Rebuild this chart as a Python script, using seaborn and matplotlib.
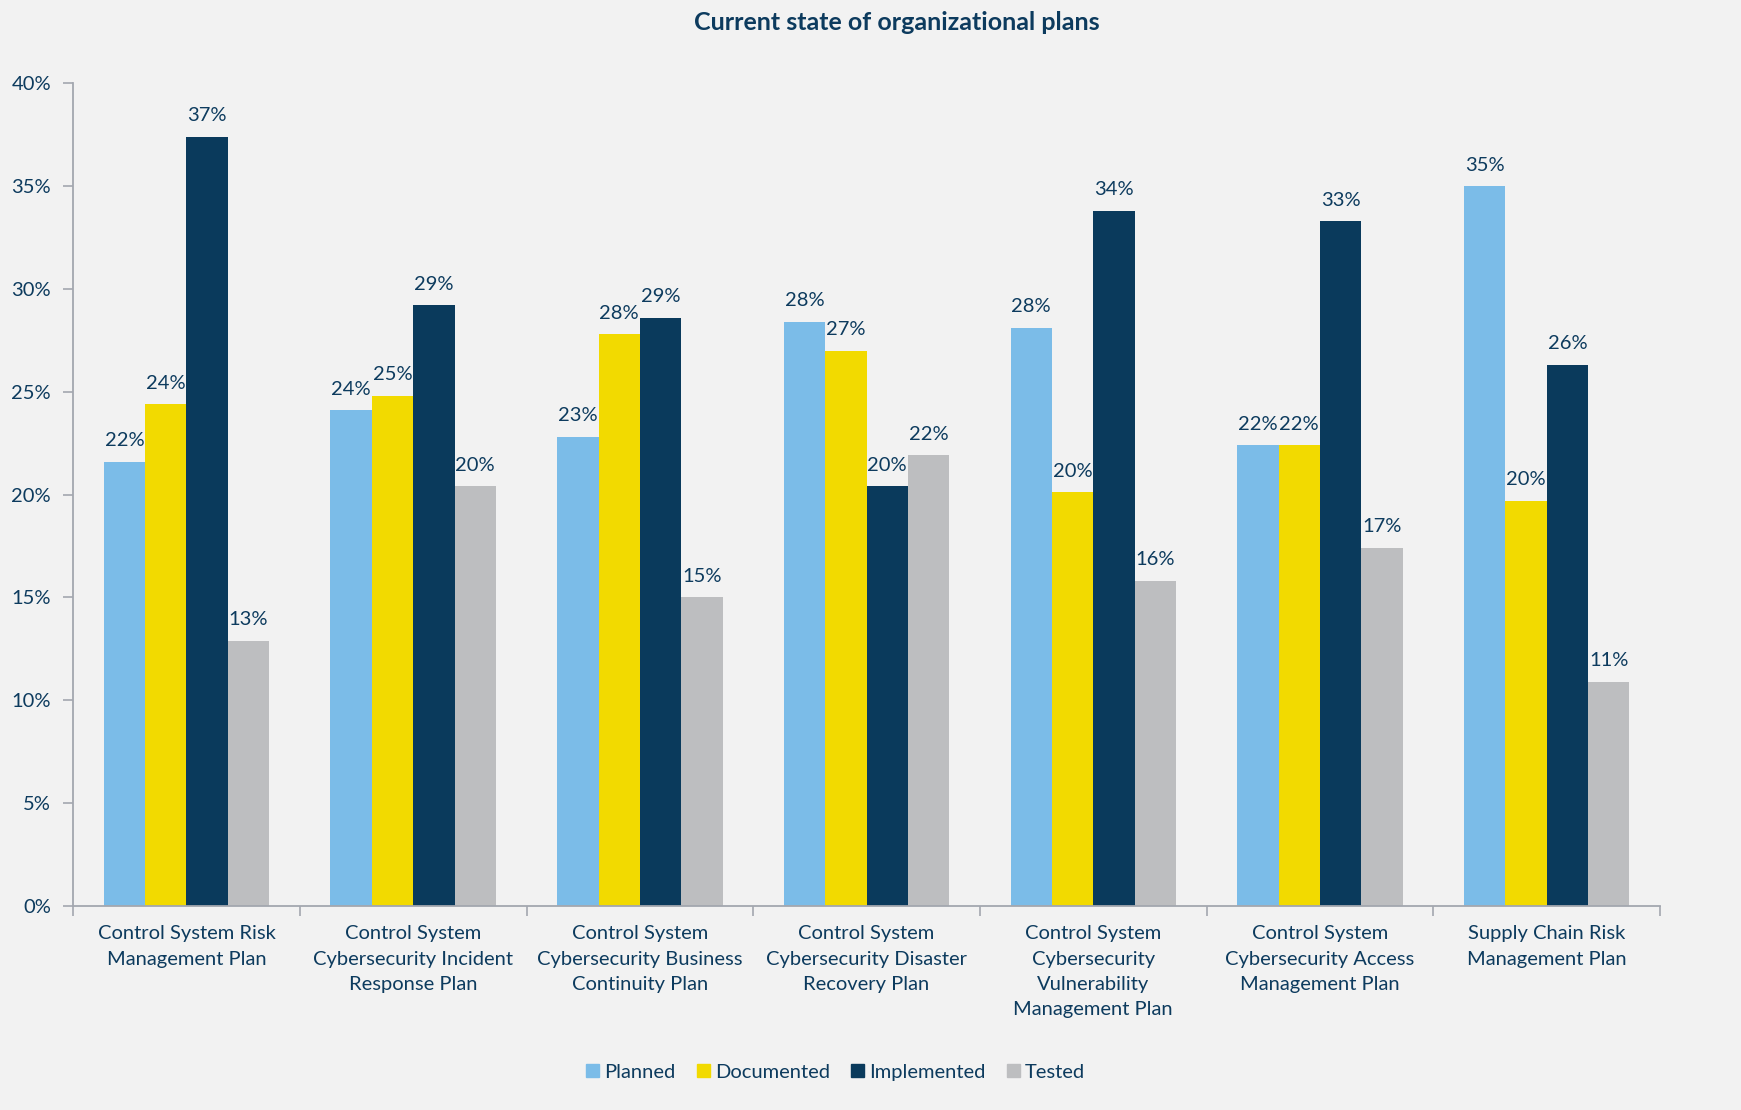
import matplotlib
matplotlib.use("Agg")
import matplotlib.pyplot as plt
import seaborn as sns
import pandas as pd
from matplotlib.ticker import FixedLocator, PercentFormatter

plans = [
    "Control System Risk\nManagement Plan",
    "Control System\nCybersecurity Incident\nResponse Plan",
    "Control System\nCybersecurity Business\nContinuity Plan",
    "Control System\nCybersecurity Disaster\nRecovery Plan",
    "Control System\nCybersecurity\nVulnerability\nManagement Plan",
    "Control System\nCybersecurity Access\nManagement Plan",
    "Supply Chain Risk\nManagement Plan",
]
statuses = ["Planned", "Documented", "Implemented", "Tested"]

planned = [21.6, 24.1, 22.8, 28.4, 28.1, 22.4, 35.0]
documented = [24.4, 24.8, 27.8, 27.0, 20.1, 22.4, 19.7]
implemented = [37.4, 29.2, 28.6, 20.4, 33.8, 33.3, 26.3]
tested = [12.9, 20.4, 15.0, 21.9, 15.8, 17.4, 10.9]

colors = ["#7BBCE8", "#F2DA00", "#0A3A5C", "#BDBEC0"]
bg = "#F2F2F2"
navy = "#0D3B5E"

df = pd.DataFrame({
    "Plan": plans * 4,
    "Status": sum([[s] * len(plans) for s in statuses], []),
    "Value": planned + documented + implemented + tested,
})

sns.set_theme(style="white")
plt.rcParams["font.family"] = ["Lato", "DejaVu Sans"]

fig = plt.figure(figsize=(17.41, 11.10), dpi=100, facecolor=bg)
ax = fig.add_axes([0.042, 0.184, 0.9115, 0.741])
ax.set_facecolor(bg)

sns.barplot(data=df, x="Plan", y="Value", hue="Status", order=plans,
            hue_order=statuses, palette=colors, width=0.73, saturation=1,
            linewidth=0, ax=ax)

for cont in ax.containers:
    ax.bar_label(cont, labels=[f"{v:.0f}%" for v in cont.datavalues],
                 padding=9, fontsize=14.5, color=navy)

ax.set_ylim(0, 40)
ax.set_xlim(-0.5, len(plans) - 0.5)
ax.yaxis.set_major_locator(FixedLocator(range(0, 41, 5)))
ax.yaxis.set_major_formatter(PercentFormatter(decimals=0))
ax.set_xlabel("")
ax.set_ylabel("")

for side in ["top", "right"]:
    ax.spines[side].set_visible(False)
for side in ["left", "bottom"]:
    ax.spines[side].set_color("#A3A7AF")
    ax.spines[side].set_linewidth(1.3)

ax.tick_params(axis="y", which="major", left=True, length=7, width=1.2,
               color="#A3A7AF", labelsize=14.5, labelcolor=navy, pad=9)
ax.set_xticks(range(len(plans)))
ax.set_xticklabels(plans, linespacing=1.6)
ax.tick_params(axis="x", which="major", bottom=False, labelsize=14.5,
               labelcolor=navy, pad=8)
ax.set_xticks([i + 0.5 for i in range(-1, len(plans))], minor=True)
ax.tick_params(axis="x", which="minor", bottom=True, length=7, width=1.2,
               color="#A3A7AF")

ax.legend_.remove()
handles = [plt.Rectangle((0, 0), 1, 1, color=c) for c in colors]
fig.legend(handles, statuses, loc="center", bbox_to_anchor=(0.48, 0.034),
           ncol=4, frameon=False, fontsize=14.5, labelcolor=navy,
           handlelength=0.65, handleheight=0.65, handletextpad=0.25,
           columnspacing=1.05)

fig.suptitle("Current state of organizational plans", x=0.515, y=0.99,
             fontsize=18, fontweight="bold", color=navy)

fig.savefig("out.png", dpi=100, facecolor=bg)
